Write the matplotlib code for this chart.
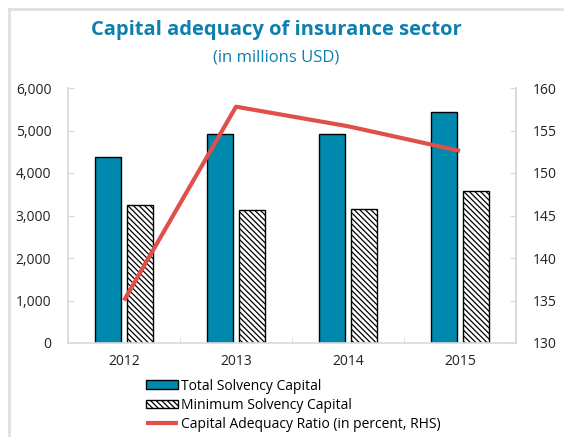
import matplotlib.pyplot as plt
import numpy as np
from matplotlib.lines import Line2D

plt.rcParams['font.family'] = ['Open Sans', 'DejaVu Sans']
plt.rcParams['hatch.linewidth'] = 0.9
plt.rcParams['hatch.color'] = '#555555'

years = ['2012', '2013', '2014', '2015']
total_solvency = [4380, 4920, 4915, 5440]
minimum_solvency = [3240, 3130, 3160, 3580]
adequacy_ratio = [135.0, 157.8, 155.5, 152.6]

blue = '#0089AE'
red = '#E0504A'
grid_grey = '#D9D9D9'
title_blue = '#0E7FAE'

fig = plt.figure(figsize=(5.64, 4.37), dpi=100)

# light frame around the chart (top and left edges visible)
fig.add_artist(Line2D([9 / 564, 9 / 564], [0, 1 - 9 / 437], color='#E0E0E0', lw=2))
fig.add_artist(Line2D([9 / 564, 1], [1 - 9 / 437, 1 - 9 / 437], color='#E0E0E0', lw=2))

ax = fig.add_axes([68 / 564, 94 / 437, 448 / 564, 255 / 437])
x = np.arange(len(years))
w = 0.225
off = 0.143
ax.bar(x - off, total_solvency, w, color=blue, edgecolor='black', lw=1.0,
       label='Total Solvency Capital', zorder=2)
ax.bar(x + off, minimum_solvency, w, color='white', edgecolor='black', lw=1.0,
       hatch='\\' * 6, label='Minimum Solvency Capital', zorder=2)

ax.set_xlim(-0.5, 3.5)
ax.set_ylim(0, 6000)
ax.set_yticks(range(0, 6001, 1000))
ax.set_yticklabels([f'{v:,}' for v in range(0, 6001, 1000)])
ax.set_xticks(x)
ax.set_xticklabels(years)
ax.set_xticks(np.arange(-0.5, 4, 1), minor=True)
ax.tick_params(axis='x', which='major', length=0, pad=8)
ax.tick_params(axis='x', which='minor', direction='in', length=4, color=grid_grey)
ax.tick_params(axis='y', direction='in', length=4, color=grid_grey, pad=12)
ax.tick_params(labelsize=10, labelcolor='#222222')
for s in ['left', 'bottom', 'right']:
    ax.spines[s].set_color(grid_grey)
    ax.spines[s].set_linewidth(1.2)
ax.spines['top'].set_visible(False)

ax2 = ax.twinx()
ax2.plot(x, adequacy_ratio, color=red, lw=3, label='Capital Adequacy Ratio (in percent, RHS)',
         solid_capstyle='butt', zorder=3)
ax2.set_ylim(130, 160)
ax2.set_yticks(range(130, 161, 5))
ax2.tick_params(axis='y', direction='in', length=4, color=grid_grey, pad=12,
                labelsize=10, labelcolor='#222222')
for s in ['left', 'bottom', 'top']:
    ax2.spines[s].set_visible(False)
ax2.spines['right'].set_color(grid_grey)
ax2.spines['right'].set_linewidth(1.2)

h1, l1 = ax.get_legend_handles_labels()
h2, l2 = ax2.get_legend_handles_labels()
fig.legend(h1 + h2, l1 + l2, loc='upper left', bbox_to_anchor=(140 / 564, 1 - 373 / 437),
           frameon=False, fontsize=10, handlelength=2.3, handleheight=0.55,
           handletextpad=0.25, labelspacing=0.3, borderaxespad=0)

fig.text(0.49, 1 - 30 / 437, 'Capital adequacy of insurance sector', ha='center', va='center',
         fontsize=14.5, fontweight='bold', color=title_blue)
fig.text(0.49, 1 - 57 / 437, '(in millions USD)', ha='center', va='center',
         fontsize=12, color=title_blue)

fig.savefig('out.png', dpi=100)
